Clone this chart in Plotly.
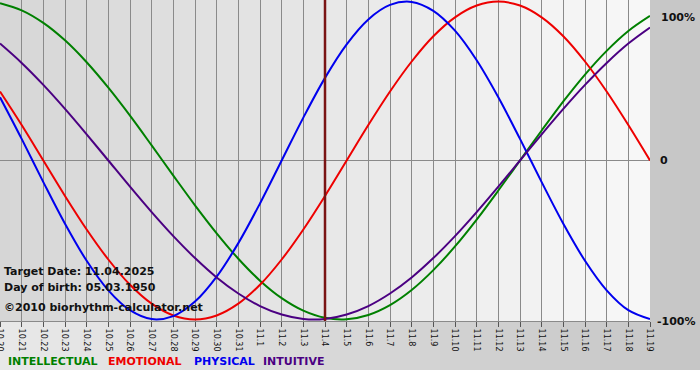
import plotly.graph_objects as go

days = ["10.20", "10.21", "10.22", "10.23", "10.24", "10.25", "10.26", "10.27", "10.28",
        "10.29", "10.30", "10.31", "11.1", "11.2", "11.3", "11.4", "11.5", "11.6", "11.7",
        "11.8", "11.9", "11.10", "11.11", "11.12", "11.13", "11.14", "11.15", "11.16",
        "11.17", "11.18", "11.19"]

intellectual = [0.990, 0.945, 0.866, 0.756, 0.618, 0.458, 0.282, 0.095, -0.095, -0.282,
                -0.458, -0.618, -0.756, -0.866, -0.945, -0.990, -0.999, -0.972, -0.910,
                -0.815, -0.690, -0.541, -0.372, -0.189, 0.000, 0.189, 0.372, 0.541, 0.690,
                0.815, 0.910]
emotional = [0.434, 0.223, 0.000, -0.223, -0.434, -0.623, -0.782, -0.901, -0.975, -1.000,
             -0.975, -0.901, -0.782, -0.623, -0.434, -0.223, 0.000, 0.223, 0.434, 0.623,
             0.782, 0.901, 0.975, 1.000, 0.975, 0.901, 0.782, 0.623, 0.434, 0.223, 0.000]
physical = [0.398, 0.136, -0.136, -0.398, -0.631, -0.817, -0.942, -0.998, -0.979, -0.888,
            -0.731, -0.520, -0.270, 0.000, 0.270, 0.520, 0.731, 0.888, 0.979, 0.998, 0.942,
            0.817, 0.631, 0.398, 0.136, -0.136, -0.398, -0.631, -0.817, -0.942, -0.998]
intuitive = [0.736, 0.614, 0.476, 0.325, 0.165, 0.000, -0.165, -0.325, -0.476, -0.614,
             -0.736, -0.837, -0.916, -0.969, -0.997, -0.997, -0.969, -0.916, -0.837, -0.736,
             -0.614, -0.476, -0.325, -0.165, 0.000, 0.165, 0.325, 0.476, 0.614, 0.736, 0.837]

target_day = "11.4"
target_text = "Target Date: 11.04.2025"
birth_text = "Day of birth: 05.03.1950"
copyright_text = "©2010 biorhythm-calculator.net"
right_labels = ["100%", "0", "-100%"]

series = [
    ("INTELLECTUAL", intellectual, "#008000"),
    ("EMOTIONAL", emotional, "#ee0000"),
    ("PHYSICAL", physical, "#0000ee"),
    ("INTUITIVE", intuitive, "#4b0082"),
]

W, H = 700, 380
PW, PH = 650, 321  # plot area in px
FONT = "DejaVu Sans"


def px_x(x):
    return x / PW


def px_y(y):
    return (PH - y) / PH


fig = go.Figure()
for name, vals, col in series:
    fig.add_trace(go.Scatter(x=days, y=vals, mode="lines", name=name,
                             line=dict(color=col, width=2, shape="spline", simplify=False),
                             hoverinfo="skip"))

shapes = []
# outer background gradient (light left -> darker right)
n_out = 70
for i in range(n_out):
    c = int(round(232 + (198 - 232) * i / (n_out - 1)))
    shapes.append(dict(type="rect", xref="paper", yref="paper",
                       x0=px_x(i * 10), x1=px_x(i * 10 + 11),
                       y0=px_y(370), y1=1.0, layer="below",
                       line=dict(width=0), fillcolor=f"rgb({c},{c},{c})"))
# plot area gradient
n_in = 65
for i in range(n_in):
    c = int(round(214 + (248 - 214) * i / (n_in - 1)))
    shapes.append(dict(type="rect", xref="paper", yref="paper",
                       x0=px_x(i * 10), x1=min(1.0, px_x(i * 10 + 11)),
                       y0=0, y1=1, layer="below",
                       line=dict(width=0), fillcolor=f"rgb({c},{c},{c})"))
# target day marker line (category axis -> position by category index)
t_idx = days.index(target_day)
shapes.append(dict(type="line", xref="x", yref="paper", x0=t_idx, x1=t_idx,
                   y0=0, y1=1, line=dict(color="#7a1414", width=2.5), layer="above"))

annotations = []
for txt, y in [(target_text, 271), (birth_text, 287), (copyright_text, 307)]:
    annotations.append(dict(text="<b>" + txt + "</b>", xref="paper", yref="paper",
                            x=px_x(3), y=px_y(y),
                            xanchor="left", yanchor="middle", showarrow=False,
                            borderpad=0, font=dict(family=FONT, size=11, color="#111111")))

for txt, x, y in zip(right_labels, [660, 659, 656], [17, 161, 321]):
    annotations.append(dict(text="<b>" + txt + "</b>", xref="paper", yref="paper",
                            x=px_x(x), y=px_y(y), xanchor="left", yanchor="middle",
                            showarrow=False, borderpad=0,
                            font=dict(family=FONT, size=11, color="#111111")))

for (name, _, col), x in zip(series, [7, 107, 193, 262]):
    annotations.append(dict(text="<b>" + name + "</b>", xref="paper", yref="paper",
                            x=px_x(x), y=px_y(361.5), xanchor="left", yanchor="middle",
                            showarrow=False, borderpad=0,
                            font=dict(family=FONT, size=11, color=col)))

fig.update_layout(
    template="none",
    width=W, height=H,
    margin=dict(l=0, r=W - PW, t=0, b=H - PH, pad=0),
    paper_bgcolor="white",
    plot_bgcolor="rgba(0,0,0,0)",
    showlegend=False,
    shapes=shapes,
    annotations=annotations,
    xaxis=dict(type="category", range=[0, len(days) - 1], showgrid=True,
               gridcolor="#8a8a8a", gridwidth=1, showline=True, linecolor="#8a8a8a",
               linewidth=1, ticks="outside", ticklen=5, tickcolor="#555555",
               tickangle=90, tickfont=dict(family=FONT, size=8, color="#111111"),
               automargin=False, zeroline=False, fixedrange=True),
    yaxis=dict(range=[-1.01, 1.01], showgrid=False, zeroline=True, zerolinecolor="#8a8a8a",
               zerolinewidth=1, showticklabels=False, ticks="", showline=False,
               automargin=False, fixedrange=True),
)

fig.write_html("out.html", config={"displayModeBar": False},
               post_script="document.body.style.margin='0';document.body.style.overflow='hidden';")
